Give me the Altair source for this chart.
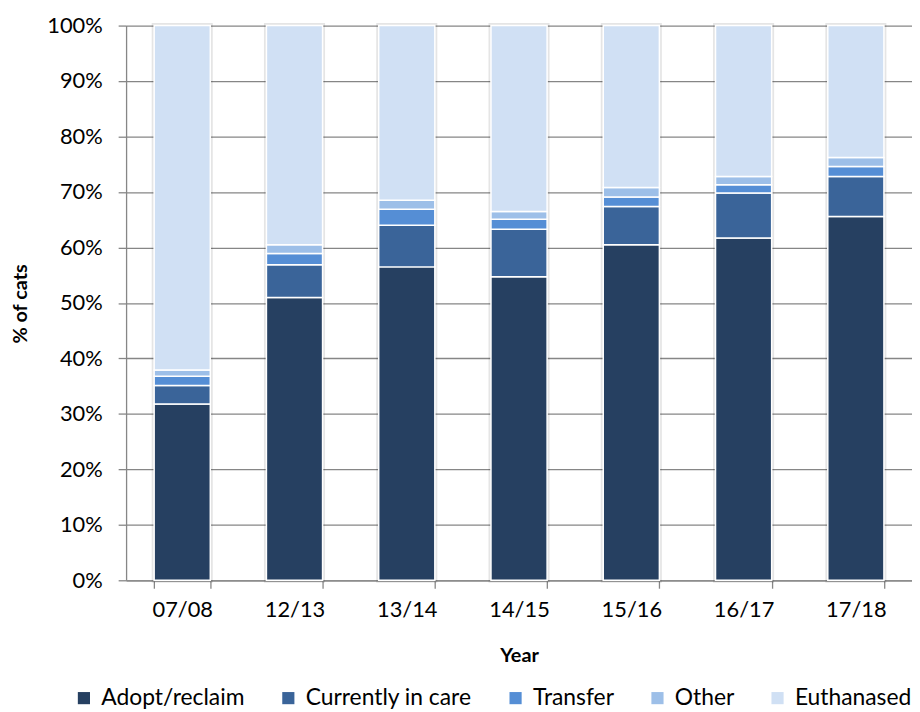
import altair as alt
import pandas as pd

years = ["07/08", "12/13", "13/14", "14/15", "15/16", "16/17", "17/18"]
categories = ["Adopt/reclaim", "Currently in care", "Transfer", "Other", "Euthanased"]
adopt = [31.8, 51.0, 56.5, 54.7, 60.5, 61.7, 65.6]
care = [3.3, 5.9, 7.5, 8.6, 6.9, 8.1, 7.2]
transfer = [1.7, 2.0, 2.9, 1.8, 1.7, 1.5, 1.8]
other = [1.1, 1.6, 1.6, 1.4, 1.7, 1.5, 1.6]
euthanased = [62.1, 39.5, 31.5, 33.5, 29.2, 27.2, 23.8]
colors = ["#264061", "#3A6499", "#558ED5", "#9DBFE8", "#D0E0F4"]

series = [adopt, care, transfer, other, euthanased]
rows = []
for i, yr in enumerate(years):
    for j, cat in enumerate(categories):
        rows.append({"Year": yr, "Outcome": cat, "idx": j, "value": series[j][i]})
df = pd.DataFrame(rows)

FONT = "Lato"

x_enc = alt.X(
    "Year:N",
    sort=years,
    scale=alt.Scale(paddingInner=0.5, paddingOuter=0.25),
    axis=alt.Axis(
        title="Year",
        labelAngle=0,
        tickBand="extent",
        tickSize=8,
        tickColor="#868686",
        tickWidth=1.3,
        domainColor="#868686",
        domainWidth=1.3,
        labelFontSize=22,
        labelPadding=12,
        labelColor="#000000",
        titleFontSize=20,
        titleFontWeight="bold",
        titleColor="#000000",
        titleY=76,
        titleBaseline="middle",
        grid=False,
    ),
)

y_axis = alt.Axis(
    title="% of cats",
    values=list(range(0, 101, 10)),
    labelExpr="datum.value + '%'",
    tickSize=8,
    tickColor="#868686",
    tickWidth=1.3,
    domainColor="#868686",
    domainWidth=1.3,
    gridColor="#868686",
    gridWidth=1.3,
    labelFontSize=22,
    labelPadding=16,
    labelColor="#000000",
    titleFontSize=20,
    titleFontWeight="bold",
    titleColor="#000000",
    titleAngle=270,
    titleX=-106,
    titleY=280,
    titleAlign="center",
    titleBaseline="middle",
)

shadow = alt.Chart(df).mark_bar(
    fill="white", stroke="#000000", strokeOpacity=0.1, strokeWidth=5
).encode(
    x=x_enc,
    y=alt.Y("sum(value):Q", scale=alt.Scale(domain=[0, 100], nice=False), axis=y_axis),
)

bars = alt.Chart(df).mark_bar(stroke="white", strokeWidth=1.5).encode(
    x=x_enc,
    y=alt.Y("value:Q", stack="zero", scale=alt.Scale(domain=[0, 100], nice=False), axis=y_axis),
    color=alt.Color(
        "Outcome:N",
        scale=alt.Scale(domain=categories, range=colors),
        legend=alt.Legend(
            title=None,
            orient="none",
            direction="horizontal",
            legendX=-54,
            legendY=666,
            symbolType="square",
            symbolSize=150,
            symbolStrokeWidth=0,
            labelFontSize=23,
            labelLimit=400,
            labelColor="#000000",
            labelOffset=6,
            columnPadding=32,
        ),
    ),
    order=alt.Order("idx:Q", sort="ascending"),
)

chart = alt.layer(shadow, bars).properties(
    width=792,
    height=559,
    autosize=alt.AutoSizeParams(type="none"),
    padding={"left": 119, "top": 15, "right": 0, "bottom": 128},
).configure(
    font=FONT,
).configure_view(stroke=None)

chart.save("out.html", embed_options={"renderer": "svg", "actions": False})
